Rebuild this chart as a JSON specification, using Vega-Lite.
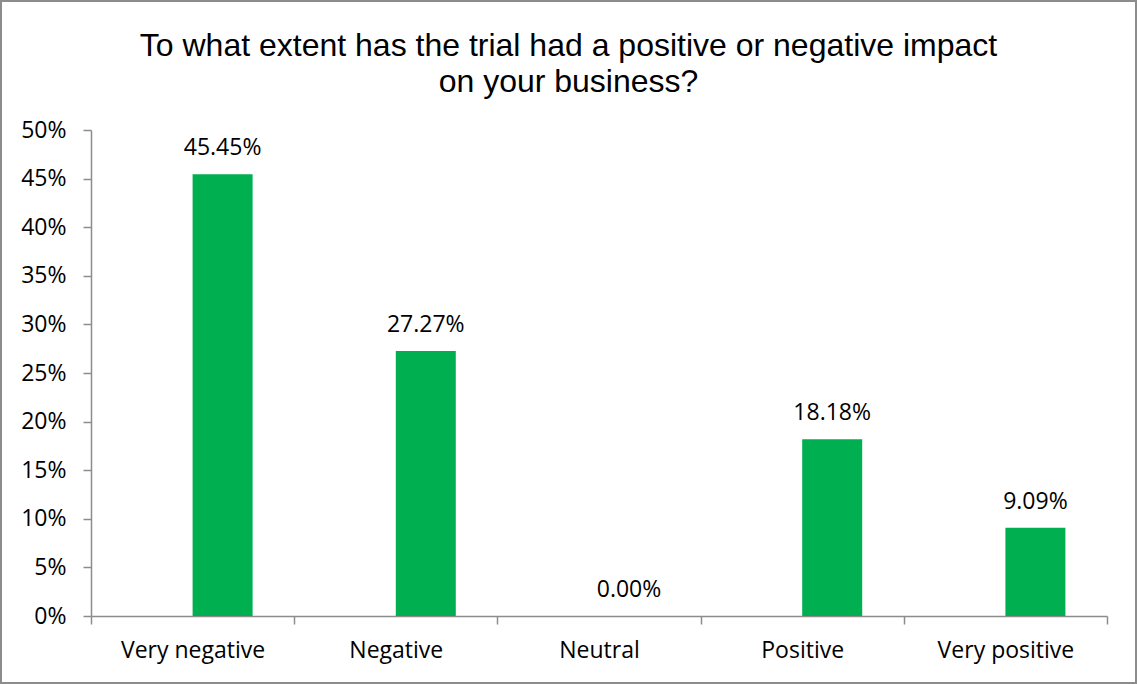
{
  "$schema": "https://vega.github.io/schema/vega-lite/v6.json",
  "width": 1135,
  "height": 682,
  "autosize": "none",
  "padding": 1,
  "background": "white",
  "view": {"stroke": "#8c8c8c", "strokeWidth": 2, "fill": "white"},
  "title": {
    "text": ["To what extent has the trial had a positive or negative impact", "on your business?"],
    "font": "Liberation Sans",
    "fontSize": 32,
    "fontWeight": "normal",
    "color": "#000000",
    "lineHeight": 36,
    "anchor": "middle",
    "baseline": "top",
    "offset": -98
  },
  "data": {
    "values": [
      {"response": "Very negative", "pct": 0.4545},
      {"response": "Negative", "pct": 0.2727},
      {"response": "Neutral", "pct": 0.0},
      {"response": "Positive", "pct": 0.1818},
      {"response": "Very positive", "pct": 0.0909}
    ]
  },
  "encoding": {
    "x": {
      "field": "response",
      "type": "nominal",
      "sort": null,
      "scale": {"range": [90, 1106], "paddingInner": 0, "paddingOuter": 0},
      "axis": {
        "title": null,
        "orient": "bottom",
        "offset": -67,
        "tickBand": "extent",
        "labelAngle": 0,
        "domainColor": "#8c8c8c",
        "domainWidth": 1.5,
        "tickColor": "#8c8c8c",
        "tickWidth": 1.5,
        "tickSize": 8,
        "labelPadding": 33,
        "labelBaseline": "alphabetic",
        "labelFont": "Open Sans",
        "labelFontSize": 23,
        "labelColor": "#000000",
        "grid": false
      }
    },
    "y": {
      "field": "pct",
      "type": "quantitative",
      "scale": {"domain": [0, 0.5], "range": [615, 129], "nice": false, "zero": true},
      "axis": {
        "title": null,
        "orient": "left",
        "offset": -90,
        "values": [0, 0.05, 0.1, 0.15, 0.2, 0.25, 0.3, 0.35, 0.4, 0.45, 0.5],
        "format": ".0%",
        "domainColor": "#8c8c8c",
        "domainWidth": 1.5,
        "tickColor": "#8c8c8c",
        "tickWidth": 1.5,
        "tickSize": 8,
        "labelPadding": 17,
        "labelFont": "Open Sans",
        "labelFontSize": 23,
        "labelColor": "#000000",
        "grid": false
      }
    }
  },
  "layer": [
    {
      "mark": {"type": "bar", "width": 60, "xOffset": 30, "color": "#00B050"}
    },
    {
      "mark": {
        "type": "text",
        "xOffset": 30,
        "dy": -19,
        "baseline": "alphabetic",
        "align": "center",
        "font": "Open Sans",
        "fontSize": 23,
        "color": "#000000"
      },
      "encoding": {
        "text": {"field": "pct", "type": "quantitative", "format": ".2%"}
      }
    }
  ]
}
